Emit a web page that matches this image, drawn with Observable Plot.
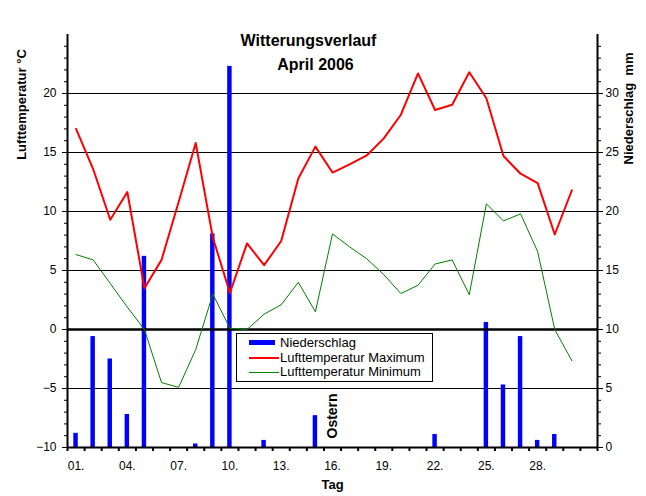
<!DOCTYPE html>
<html>
<head>
<meta charset="utf-8">
<script src="https://cdn.jsdelivr.net/npm/d3@7"></script>
<script src="https://cdn.jsdelivr.net/npm/@observablehq/plot@0.6"></script>
<style>
  html, body { margin: 0; padding: 0; background: white; }
  #wrap { position: relative; width: 646px; height: 496px; font-family: "Liberation Sans", Arial, sans-serif; }
  svg text { white-space: pre; }
  #legend { position: absolute; left: 236px; top: 333px; width: 195px; height: 47px; border: 1px solid black; background: white; font-size: 13px; }
  #legend .row { position: absolute; left: 0; height: 14px; width: 195px; }
  #legend .sw { position: absolute; left: 12px; width: 26px; }
  #legend .lb { position: absolute; left: 43px; top: 0; line-height: 14px; white-space: nowrap; }
</style>
</head>
<body>
<div id="wrap"></div>
<script>
const days = [1,2,3,4,5,6,7,8,9,10,11,12,13,14,15,16,17,18,19,20,21,22,23,24,25,26,27,28,29,30];
const tempMax = [17.0,13.6,9.3,11.65,3.5,5.9,10.8,15.8,7.8,3.1,7.3,5.45,7.5,12.8,15.5,13.3,14.0,14.75,16.2,18.2,21.7,18.6,19.05,21.8,19.6,14.7,13.2,12.4,8.05,11.8];
const tempMin = [6.35,5.9,3.9,1.9,0.0,-4.5,-4.9,-1.7,3.0,0.1,0.0,1.3,2.1,4.0,1.5,8.1,7.0,6.0,4.65,3.05,3.75,5.55,5.9,2.95,10.65,9.2,9.8,6.6,0.0,-2.65];
const precipitation = [1.2,9.4,7.5,2.8,16.2,0,0,0.3,18.1,32.3,0,0.6,0,0,2.7,0,0,0,0,0,0,1.1,0,0,10.6,5.3,9.4,0.6,1.1,0];
const tempTicks = [-10,-5,0,5,10,15,20];
const tempGrid = [-5,5,10,15,20];
const tempZeroLine = [0];
const precipZeroInTemp = -10; // right axis: Niederschlag 0 mm aligns with -10 °C
const xLabelDays = [1,4,7,10,13,16,19,22,25,28];
const xLabels = ["01.","04.","07.","10.","13.","16.","19.","22.","25.","28."];
const annotations = [{day: 16, label: "Ostern"}];
const xDomain = [0.5, 31.5];
const yDomain = [-10, 25];

const rows = days.map((d, i) => ({day: d, tmax: tempMax[i], tmin: tempMin[i], p: precipitation[i]}));
const bars = rows.filter(r => r.p > 0);
const font = "'Liberation Sans', Arial, sans-serif";

const chart = Plot.plot({
  width: 646,
  height: 496,
  marginTop: 34,
  marginRight: 49,
  marginBottom: 49,
  marginLeft: 67,
  style: {fontFamily: font, fontSize: "12px", background: "white", color: "black"},
  x: {domain: xDomain, label: null},
  y: {domain: yDomain, label: null},
  marks: [
    Plot.ruleY(tempGrid, {stroke: "black", strokeWidth: 1}),
    Plot.rectY(bars, {x1: d => d.day - 0.13, x2: d => d.day + 0.13, y1: precipZeroInTemp, y2: d => d.p + precipZeroInTemp, fill: "#0000ff"}),
    Plot.ruleY(tempZeroLine, {stroke: "black", strokeWidth: 2.5}),
    Plot.line(rows, {x: "day", y: "tmin", stroke: "#008000", strokeWidth: 1}),
    Plot.line(rows, {x: "day", y: "tmax", stroke: "#ff0000", strokeWidth: 2}),
    // axis lines
    Plot.ruleX([xDomain[0]], {stroke: "black", strokeWidth: 2}),
    Plot.ruleX([xDomain[1]], {stroke: "black", strokeWidth: 2}),
    Plot.ruleY([yDomain[0]], {stroke: "black", strokeWidth: 2}),
    // left axis
    Plot.axisY({anchor: "left", ticks: d3.range(-10, 25, 1), tickSize: 3, tickFormat: () => "", label: null}),
    Plot.axisY({anchor: "left", ticks: tempTicks, tickSize: 5, tickPadding: 6, fontSize: 12, label: null}),
    // right axis (Niederschlag)
    Plot.axisY({anchor: "right", ticks: d3.range(-10, 25, 1), tickSize: 3, tickFormat: () => "", label: null}),
    Plot.axisY({anchor: "right", ticks: tempTicks, tickSize: 5, tickPadding: 3, tickFormat: d => String(d - precipZeroInTemp), fontSize: 12, label: null}),
    // bottom axis
    Plot.axisX({anchor: "bottom", ticks: d3.range(0.5, 31.6, 1), tickSize: 4, strokeWidth: 2, tickFormat: () => "", label: null}),
    Plot.axisX({anchor: "bottom", ticks: xLabelDays, tickSize: 0, tickPadding: 14, tickFormat: d => xLabels[xLabelDays.indexOf(d)], fontSize: 12, label: null}),
    // titles and axis labels
    Plot.text(["Witterungsverlauf"], {frameAnchor: "top", dx: -24, dy: 6, lineAnchor: "middle", fontWeight: "bold", fontSize: 16}),
    Plot.text(["April 2006"], {frameAnchor: "top", dx: -17, dy: 30.5, lineAnchor: "middle", fontWeight: "bold", fontSize: 16}),
    Plot.text(["Tag"], {frameAnchor: "bottom", dx: 0, dy: 37, lineAnchor: "middle", fontWeight: "bold", fontSize: 13}),
    Plot.text(["Lufttemperatur °C"], {frameAnchor: "top-left", dx: -46, dy: 70, rotate: -90, textAnchor: "middle", lineAnchor: "middle", fontWeight: "bold", fontSize: 13}),
    Plot.text(["Niederschlag  mm"], {frameAnchor: "top-right", dx: 31, dy: 74, rotate: -90, textAnchor: "middle", lineAnchor: "middle", fontWeight: "bold", fontSize: 13}),
    Plot.text(annotations, {x: "day", text: "label", frameAnchor: "bottom", dy: -9, rotate: -90, textAnchor: "start", lineAnchor: "middle", fontWeight: "bold", fontSize: 14})
  ]
});

const wrap = document.getElementById("wrap");
wrap.appendChild(chart);

const legendItems = [
  {label: "Niederschlag", kind: "bar", color: "#0000ff"},
  {label: "Lufttemperatur Maximum", kind: "line", color: "#ff0000", width: 2},
  {label: "Lufttemperatur Minimum", kind: "line", color: "#008000", width: 1}
];
const legend = document.createElement("div");
legend.id = "legend";
legendItems.forEach((item, i) => {
  const row = document.createElement("div");
  row.className = "row";
  row.style.top = (2 + i * 14.5) + "px";
  const sw = document.createElement("div");
  sw.className = "sw";
  sw.style.background = item.color;
  if (item.kind === "bar") { sw.style.height = "5px"; sw.style.top = "4px"; }
  else { sw.style.height = item.width + "px"; sw.style.top = (7 - item.width / 2) + "px"; sw.style.width = "30px"; }
  const lb = document.createElement("div");
  lb.className = "lb";
  lb.textContent = item.label;
  row.appendChild(sw);
  row.appendChild(lb);
  legend.appendChild(row);
});
wrap.appendChild(legend);
</script>
</body>
</html>
